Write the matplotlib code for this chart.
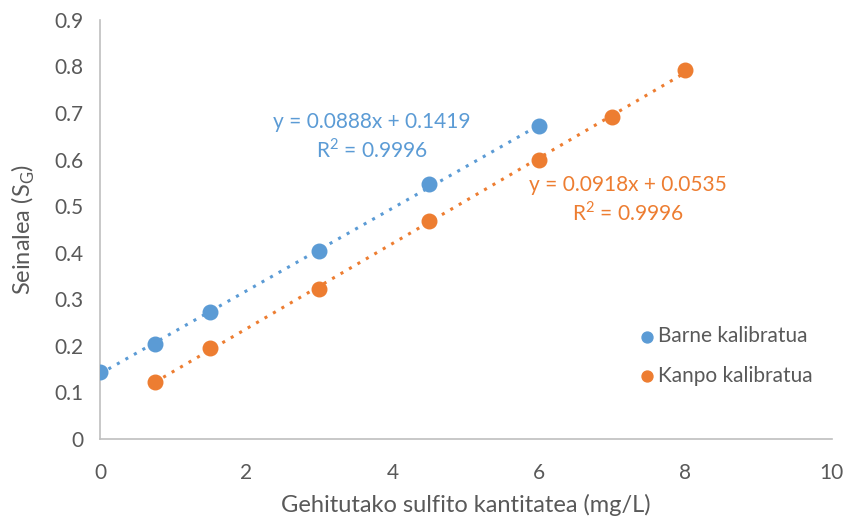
import numpy as np
import matplotlib.pyplot as plt

# datuak
barne_x = [0, 0.75, 1.5, 3, 4.5, 6]
barne_y = [0.143, 0.204, 0.273, 0.403, 0.547, 0.671]
kanpo_x = [0.75, 1.5, 3, 4.5, 6, 7, 8]
kanpo_y = [0.122, 0.196, 0.321, 0.469, 0.600, 0.692, 0.792]

BLUE = "#5B9BD5"
ORANGE = "#ED7D31"
GRAY = "#595959"

plt.rcParams["font.family"] = ["Lato", "DejaVu Sans"]

fig = plt.figure(figsize=(8.47, 5.22), dpi=100)
ax = fig.add_axes([0.118, 0.159, 0.864, 0.803])


def trend(x, y, color):
    a, b = np.polyfit(x, y, 1)
    xs = np.array([min(x), max(x)])
    ax.plot(xs, a * xs + b, linestyle=(0, (1, 2.2)), color=color, lw=2.2, zorder=2)


trend(barne_x, barne_y, BLUE)
trend(kanpo_x, kanpo_y, ORANGE)
ax.scatter(barne_x, barne_y, s=110, color=BLUE, zorder=3, label="Barne kalibratua")
ax.scatter(kanpo_x, kanpo_y, s=110, color=ORANGE, zorder=3, label="Kanpo kalibratua")

ax.text(3.72, 0.649, "y = 0.0888x + 0.1419\nR$^\\mathregular{2}$ = 0.9996", color=BLUE,
        fontsize=15, ha="center", va="center", linespacing=1.25)
ax.text(7.21, 0.514, "y = 0.0918x + 0.0535\nR$^\\mathregular{2}$ = 0.9996", color=ORANGE,
        fontsize=15, ha="center", va="center", linespacing=1.25)

ax.set_xlim(0, 10)
ax.set_ylim(0, 0.9)
ax.set_xticks(np.arange(0, 11, 2))
ax.set_yticks(np.arange(0, 0.91, 0.1))
ax.set_yticklabels(["0"] + [f"{v:.1f}" for v in np.arange(0.1, 0.91, 0.1)])
ax.tick_params(length=0, labelsize=15, colors=GRAY)
ax.tick_params(axis="x", pad=17)
ax.tick_params(axis="y", pad=12)

for s in ["top", "right"]:
    ax.spines[s].set_visible(False)
for s in ["left", "bottom"]:
    ax.spines[s].set_color("#BFBFBF")
    ax.spines[s].set_linewidth(1.2)

ax.set_xlabel("Gehitutako sulfito kantitatea (mg/L)", fontsize=17, color=GRAY, labelpad=8)
ax.set_ylabel("Seinalea (S$_\\mathregular{G}$)", fontsize=17, color=GRAY, labelpad=12)

leg = ax.legend(loc="lower left", bbox_to_anchor=(0.71, 0.082), frameon=False,
                fontsize=15, labelcolor=GRAY, handletextpad=0.15, handlelength=0.8,
                labelspacing=0.95, markerscale=0.75)

fig.savefig("out.png", dpi=100)
